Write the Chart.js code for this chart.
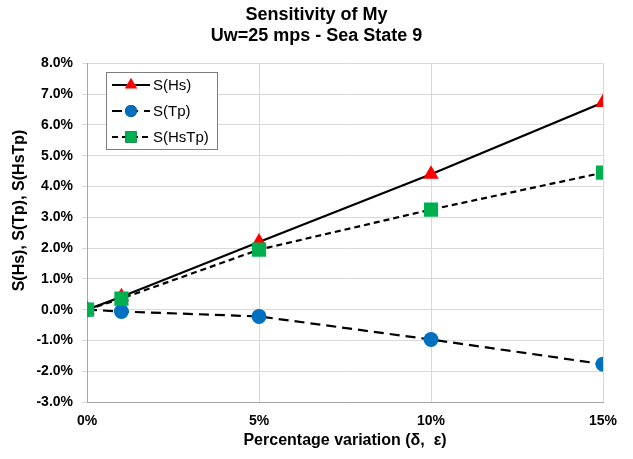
<!DOCTYPE html>
<html>
<head>
<meta charset="utf-8">
<script src="https://cdn.jsdelivr.net/npm/chart.js@4"></script>
<style>
  html, body { margin: 0; padding: 0; background: #fff; }
  #wrap { width: 633px; height: 459px; }
</style>
</head>
<body>
<div id="wrap"><canvas id="sensChart" width="633" height="459"></canvas></div>
<script>
// percentage variation (delta, epsilon), in %
const variation = [0, 1, 5, 10, 15];
// sensitivities, in %
const sHs = [0, 0.42, 2.2, 4.4, 6.73];
const sTp = [0, -0.06, -0.22, -0.97, -1.77];
const sHsTp = [0, 0.36, 1.95, 3.25, 4.45];
const seriesNames = ['S(Hs)', 'S(Tp)', 'S(HsTp)'];

const FONT = '"Liberation Sans", Arial, sans-serif';
const toPoints = arr => arr.map((v, i) => ({ x: variation[i], y: v }));

// legend box drawn inside the plot, line + marker like the original
const boxLegend = {
    id: 'boxLegend',
    afterDraw(chart) {
        const c = chart.ctx;
        const x0 = 106, y0 = 72, w = 111, h = 77;
        c.save();
        c.fillStyle = '#fff';
        c.fillRect(x0, y0, w, h);
        c.strokeStyle = '#7f7f7f';
        c.lineWidth = 1;
        c.strokeRect(x0 + 0.5, y0 + 0.5, w, h);
        seriesNames.forEach((name, row) => {
            const ds = chart.data.datasets.find(d => d.label === name);
            const y = y0 + 13 + row * 26;
            c.strokeStyle = ds.borderColor;
            c.lineWidth = ds.borderWidth;
            c.setLineDash(ds.borderDash || []);
            c.beginPath();
            c.moveTo(112, y);
            c.lineTo(150, y);
            c.stroke();
            c.setLineDash([]);
            Chart.helpers.drawPoint(c, {
                pointStyle: ds.pointStyle,
                radius: ds.pointRadius * 0.8,
                borderWidth: 0
            }, 131, y);
            c.fillStyle = ds.pointBackgroundColor;
            c.fill();
            c.fillStyle = '#000';
            c.font = '15px ' + FONT;
            c.textBaseline = 'middle';
            c.fillText(ds.label, 153, y + 1);
        });
        c.restore();
    }
};

const ctx = document.getElementById('sensChart').getContext('2d');
const chart = new Chart(ctx, {
    type: 'line',
    data: {
        datasets: [
            {
                label: seriesNames[0],
                data: toPoints(sHs),
                borderColor: '#000',
                borderWidth: 2.2,
                pointStyle: 'triangle',
                pointRadius: 9,
                pointBackgroundColor: '#ff0000',
                pointBorderColor: '#ff0000',
                pointBorderWidth: 0,
                order: 2
            },
            {
                label: seriesNames[1],
                data: toPoints(sTp),
                borderColor: '#000',
                borderWidth: 2.2,
                borderDash: [10, 6],
                pointStyle: 'circle',
                pointRadius: 7.5,
                pointBackgroundColor: '#0070c0',
                pointBorderColor: '#0070c0',
                pointBorderWidth: 0,
                order: 1
            },
            {
                label: seriesNames[2],
                data: toPoints(sHsTp),
                borderColor: '#000',
                borderWidth: 2.2,
                borderDash: [6, 4],
                pointStyle: 'rect',
                pointRadius: 10,
                pointBackgroundColor: '#00b050',
                pointBorderColor: '#00b050',
                pointBorderWidth: 0,
                order: 0
            }
        ]
    },
    options: {
        responsive: false,
        animation: false,
        layout: { padding: 0 },
        plugins: {
            legend: { display: false },
            tooltip: { enabled: false },
            title: {
                display: true,
                text: ['Sensitivity of My', 'Uw=25 mps - Sea State 9'],
                color: '#000',
                font: { family: FONT, size: 18, weight: 'bold', lineHeight: 1.15 },
                padding: { top: 5, bottom: 17 }
            }
        },
        scales: {
            x: {
                type: 'linear',
                min: 0,
                max: 15,
                afterFit: scale => { scale.height = 57; },
                ticks: {
                    stepSize: 5,
                    color: '#000',
                    padding: 11,
                    font: { family: FONT, size: 14, weight: 'bold' },
                    callback: v => v + '%'
                },
                grid: { color: '#d9d9d9', tickLength: 0 },
                border: { color: '#a6a6a6' },
                title: {
                    display: true,
                    text: 'Percentage variation (δ,  ε)',
                    color: '#000',
                    font: { family: FONT, size: 16, weight: 'bold' },
                    padding: { top: 0, bottom: 9 }
                }
            },
            y: {
                min: -3,
                max: 8,
                afterFit: scale => { scale.width = 87; },
                ticks: {
                    stepSize: 1,
                    color: '#000',
                    padding: 9,
                    font: { family: FONT, size: 14, weight: 'bold' },
                    callback: v => v.toFixed(1) + '%'
                },
                grid: { color: '#d9d9d9', tickLength: 5 },
                border: { color: '#a6a6a6' },
                title: {
                    display: true,
                    text: '\u00a0'.repeat(10) + 'S(Hs), S(Tp), S(HsTp)',
                    color: '#000',
                    font: { family: FONT, size: 16, weight: 'bold' },
                    padding: { top: 10, bottom: 0 }
                }
            },
            // empty right-hand strip, keeps the title centred on the canvas
            yRight: {
                position: 'right',
                afterFit: scale => { scale.width = 30; },
                ticks: { display: false },
                grid: { display: false },
                border: { display: false }
            }
        }
    },
    plugins: [boxLegend]
});
</script>
</body>
</html>
